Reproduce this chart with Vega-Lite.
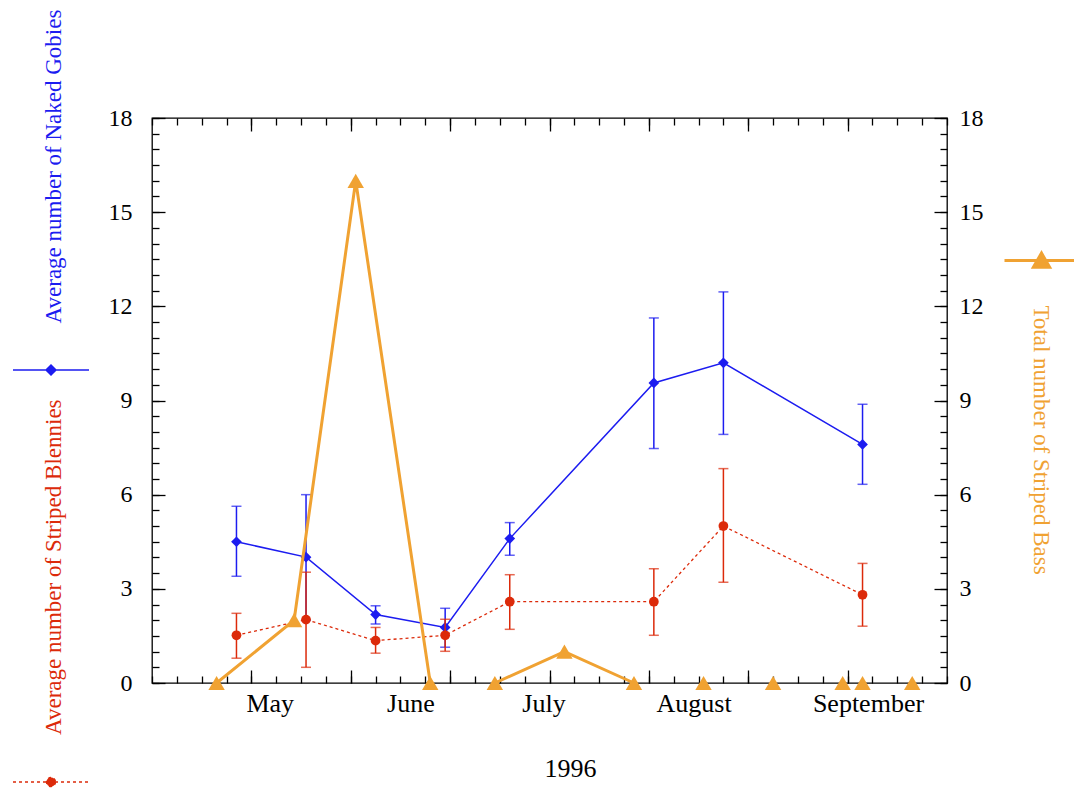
{
  "$schema": "https://vega.github.io/schema/vega-lite/v6.json",
  "width": 795,
  "height": 565,
  "autosize": {"type": "none"},
  "padding": {"left": 152, "top": 118, "right": 127, "bottom": 113},
  "background": "white",
  "config": {
    "view": {"stroke": "#000", "strokeWidth": 1.3},
    "font": "Liberation Serif",
    "axis": {"grid": false, "domain": false, "labelFont": "Liberation Serif", "titleFont": "Liberation Serif", "tickColor": "#000", "tickWidth": 1.3, "labelColor": "#000", "titleFontWeight": "normal"}
  },
  "datasets": {
    "gobies": [
      {"d": 17, "v": 4.50, "lo": 3.40, "hi": 5.63},
      {"d": 31, "v": 4.01, "lo": 2.00, "hi": 6.00},
      {"d": 45, "v": 2.18, "lo": 1.88, "hi": 2.46},
      {"d": 59, "v": 1.77, "lo": 1.14, "hi": 2.38},
      {"d": 72, "v": 4.60, "lo": 4.07, "hi": 5.11},
      {"d": 101, "v": 9.56, "lo": 7.47, "hi": 11.63},
      {"d": 115, "v": 10.20, "lo": 7.92, "hi": 12.46},
      {"d": 143, "v": 7.60, "lo": 6.33, "hi": 8.88}
    ],
    "blennies": [
      {"d": 17, "v": 1.52, "lo": 0.79, "hi": 2.22},
      {"d": 31, "v": 2.02, "lo": 0.50, "hi": 3.53},
      {"d": 45, "v": 1.35, "lo": 0.95, "hi": 1.77},
      {"d": 59, "v": 1.52, "lo": 1.01, "hi": 2.03},
      {"d": 72, "v": 2.59, "lo": 1.71, "hi": 3.45},
      {"d": 101, "v": 2.59, "lo": 1.52, "hi": 3.64},
      {"d": 115, "v": 5.00, "lo": 3.21, "hi": 6.83},
      {"d": 143, "v": 2.81, "lo": 1.81, "hi": 3.81}
    ],
    "bass": [
      {"d": 13, "v": 0, "seg": "a"},
      {"d": 28.6, "v": 2, "seg": "a"},
      {"d": 41, "v": 16, "seg": "a"},
      {"d": 56, "v": 0, "seg": "a"},
      {"d": 69, "v": 0, "seg": "b"},
      {"d": 83, "v": 1, "seg": "b"},
      {"d": 97, "v": 0, "seg": "b"},
      {"d": 111, "v": 0, "seg": "c"},
      {"d": 125, "v": 0, "seg": "d"},
      {"d": 139, "v": 0, "seg": "e"},
      {"d": 143, "v": 0, "seg": "f"},
      {"d": 153, "v": 0, "seg": "g"}
    ],
    "months": [
      {"m": "May", "pos": 23.8},
      {"m": "June", "pos": 52.1},
      {"m": "July", "pos": 78.9},
      {"m": "August", "pos": 109.1},
      {"m": "September", "pos": 144.2}
    ]
  },
  "layer": [
    {
      "data": {"name": "gobies"},
      "mark": {"type": "rule", "color": "#1c1cf0", "strokeWidth": 1.5},
      "encoding": {
        "x": {"field": "d", "type": "quantitative", "scale": {"domain": [0, 160], "nice": false, "zero": false},
          "axis": {"orient": "bottom", "values": [20, 40, 60, 80, 100, 120, 140], "labels": false, "tickSize": -13, "title": "1996", "titleFontSize": 26, "titleColor": "#000", "titleX": 418, "titleY": 93, "titleAlign": "center", "titleBaseline": "alphabetic"}},
        "y": {"field": "lo", "type": "quantitative", "scale": {"domain": [0, 18], "nice": false},
          "axis": {"orient": "left", "values": [0, 3, 6, 9, 12, 15, 18], "ticks": false, "labelPadding": 20, "labelFontSize": 24, "format": "d", "title": "Average number of Naked Gobies", "titleColor": "#1c1cf0", "titleFontSize": 23, "titleAngle": 270, "titleX": -92, "titleY": 48, "titleAlign": "center", "titleBaseline": "alphabetic"}},
        "y2": {"field": "hi"}
      }
    },
    {
      "data": {"name": "gobies"},
      "mark": {"type": "tick", "orient": "horizontal", "color": "#1c1cf0", "size": 10, "thickness": 1.5},
      "encoding": {
        "x": {"field": "d", "type": "quantitative",
          "axis": {"orient": "bottom", "values": [0, 5, 10, 15, 20, 25, 30, 35, 40, 45, 50, 55, 60, 65, 70, 75, 80, 85, 90, 95, 100, 105, 110, 115, 120, 125, 130, 135, 140, 145, 150, 155, 160], "labels": false, "tickSize": -7, "title": null}},
        "y": {"field": "lo", "type": "quantitative",
          "axis": {"orient": "left", "values": [0, 3, 6, 9, 12, 15, 18], "labels": false, "tickSize": -13, "title": "Average number of Striped Blennies", "titleColor": "#dc2a0a", "titleFontSize": 23, "titleAngle": 270, "titleX": -92, "titleY": 448.7, "titleAlign": "center", "titleBaseline": "alphabetic"}}
      }
    },
    {
      "data": {"name": "gobies"},
      "mark": {"type": "tick", "orient": "horizontal", "color": "#1c1cf0", "size": 10, "thickness": 1.5},
      "encoding": {
        "x": {"field": "d", "type": "quantitative",
          "axis": {"orient": "top", "values": [20, 40, 60, 80, 100, 120, 140], "labels": false, "tickSize": -13, "title": null}},
        "y": {"field": "hi", "type": "quantitative",
          "axis": {"orient": "left", "values": [0, 0.5, 1, 1.5, 2, 2.5, 3, 3.5, 4, 4.5, 5, 5.5, 6, 6.5, 7, 7.5, 8, 8.5, 9, 9.5, 10, 10.5, 11, 11.5, 12, 12.5, 13, 13.5, 14, 14.5, 15, 15.5, 16, 16.5, 17, 17.5, 18], "labels": false, "tickSize": -7, "title": null}}
      }
    },
    {
      "data": {"name": "gobies"},
      "mark": {"type": "line", "strokeWidth": 1.5},
      "encoding": {
        "x": {"field": "d", "type": "quantitative",
          "axis": {"orient": "top", "values": [0, 5, 10, 15, 20, 25, 30, 35, 40, 45, 50, 55, 60, 65, 70, 75, 80, 85, 90, 95, 100, 105, 110, 115, 120, 125, 130, 135, 140, 145, 150, 155, 160], "labels": false, "tickSize": -7, "title": null}},
        "y": {"field": "v", "type": "quantitative",
          "axis": {"orient": "right", "values": [0, 3, 6, 9, 12, 15, 18], "ticks": false, "labelPadding": 12, "labelFontSize": 24, "format": "d", "title": "Total number of Striped Bass", "titleColor": "#f0a232", "titleFontSize": 23, "titleAngle": 90, "titleX": 86, "titleY": 321.5, "titleAlign": "center", "titleBaseline": "alphabetic"}},
        "color": {"datum": "Naked Gobies", "scale": {"range": ["#1c1cf0"]},
          "legend": {"orient": "none", "legendX": -140, "legendY": 213, "title": null, "labelExpr": "''", "labelFontSize": 1, "padding": 0,
            "symbolType": "M-1,0H1M0,-0.13L0.13,0L0,0.13L-0.13,0Z", "symbolSize": 5776,
            "encode": {"symbols": {"update": {"fill": {"value": "#1c1cf0"}, "stroke": {"value": "#1c1cf0"}, "strokeWidth": {"value": 1.5}}}}}}
      }
    },
    {
      "data": {"name": "gobies"},
      "mark": {"type": "point", "shape": "diamond", "filled": true, "opacity": 1, "size": 115, "color": "#1c1cf0"},
      "encoding": {
        "x": {"field": "d", "type": "quantitative", "axis": null},
        "y": {"field": "v", "type": "quantitative",
          "axis": {"orient": "right", "values": [0, 3, 6, 9, 12, 15, 18], "labels": false, "tickSize": -13, "title": null}}
      }
    },
    {
      "data": {"name": "blennies"},
      "mark": {"type": "rule", "color": "#dc2a0a", "strokeWidth": 1.5},
      "encoding": {
        "x": {"field": "d", "type": "quantitative", "axis": null},
        "y": {"field": "lo", "type": "quantitative",
          "axis": {"orient": "right", "values": [0, 0.5, 1, 1.5, 2, 2.5, 3, 3.5, 4, 4.5, 5, 5.5, 6, 6.5, 7, 7.5, 8, 8.5, 9, 9.5, 10, 10.5, 11, 11.5, 12, 12.5, 13, 13.5, 14, 14.5, 15, 15.5, 16, 16.5, 17, 17.5, 18], "labels": false, "tickSize": -7, "title": null}},
        "y2": {"field": "hi"}
      }
    },
    {
      "data": {"name": "blennies"},
      "mark": {"type": "tick", "orient": "horizontal", "color": "#dc2a0a", "size": 10, "thickness": 1.5},
      "encoding": {
        "x": {"field": "d", "type": "quantitative", "axis": null},
        "y": {"field": "lo", "type": "quantitative", "axis": null}
      }
    },
    {
      "data": {"name": "blennies"},
      "mark": {"type": "tick", "orient": "horizontal", "color": "#dc2a0a", "size": 10, "thickness": 1.5},
      "encoding": {
        "x": {"field": "d", "type": "quantitative", "axis": null},
        "y": {"field": "hi", "type": "quantitative", "axis": null}
      }
    },
    {
      "data": {"name": "blennies"},
      "mark": {"type": "line", "strokeWidth": 1.3, "strokeDash": [3, 3]},
      "encoding": {
        "x": {"field": "d", "type": "quantitative", "axis": null},
        "y": {"field": "v", "type": "quantitative", "axis": null},
        "color": {"datum": "Striped Blennies", "scale": {"range": ["#dc2a0a"]},
          "legend": {"orient": "none", "legendX": -140, "legendY": 625, "title": null, "labelExpr": "''", "labelFontSize": 1, "padding": 0,
            "symbolType": "M-1,0H1M0.12,0A0.12,0.12,0,1,1,-0.12,0A0.12,0.12,0,1,1,0.12,0Z", "symbolSize": 5776,
            "encode": {"symbols": {"update": {"fill": {"value": "#dc2a0a"}, "stroke": {"value": "#dc2a0a"}, "strokeWidth": {"value": 1.3}, "strokeDash": {"value": [3, 3]}}}}}}
      }
    },
    {
      "data": {"name": "blennies"},
      "mark": {"type": "point", "shape": "circle", "filled": true, "opacity": 1, "size": 95, "color": "#dc2a0a"},
      "encoding": {
        "x": {"field": "d", "type": "quantitative", "axis": null},
        "y": {"field": "v", "type": "quantitative", "axis": null}
      }
    },
    {
      "data": {"name": "bass"},
      "mark": {"type": "line", "strokeWidth": 3},
      "encoding": {
        "x": {"field": "d", "type": "quantitative", "axis": null},
        "y": {"field": "v", "type": "quantitative", "axis": null},
        "detail": {"field": "seg", "type": "nominal"},
        "color": {"datum": "Striped Bass", "scale": {"range": ["#f0a232"]},
          "legend": {"orient": "none", "legendX": 851, "legendY": 104, "title": null, "labelExpr": "''", "labelFontSize": 1, "padding": 0,
            "symbolType": "M-1,0H1M0,-0.2L0.22,0.18L-0.22,0.18Z", "symbolSize": 5476,
            "encode": {"symbols": {"update": {"fill": {"value": "#f0a232"}, "stroke": {"value": "#f0a232"}, "strokeWidth": {"value": 3}}}}}}
      }
    },
    {
      "data": {"name": "bass"},
      "mark": {"type": "point", "shape": "triangle-up", "filled": true, "opacity": 1, "size": 270, "color": "#f0a232"},
      "encoding": {
        "x": {"field": "d", "type": "quantitative", "axis": null},
        "y": {"field": "v", "type": "quantitative", "axis": null}
      }
    },
    {
      "data": {"name": "months"},
      "mark": {"type": "text", "font": "Liberation Serif", "fontSize": 26, "baseline": "alphabetic", "align": "center", "dy": 29, "color": "#000"},
      "encoding": {
        "x": {"field": "pos", "type": "quantitative", "axis": null},
        "y": {"datum": 0, "type": "quantitative", "axis": null},
        "text": {"field": "m"}
      }
    }
  ],
  "resolve": {
    "axis": {"x": "independent", "y": "independent"},
    "scale": {"color": "independent"},
    "legend": {"color": "independent"}
  }
}
